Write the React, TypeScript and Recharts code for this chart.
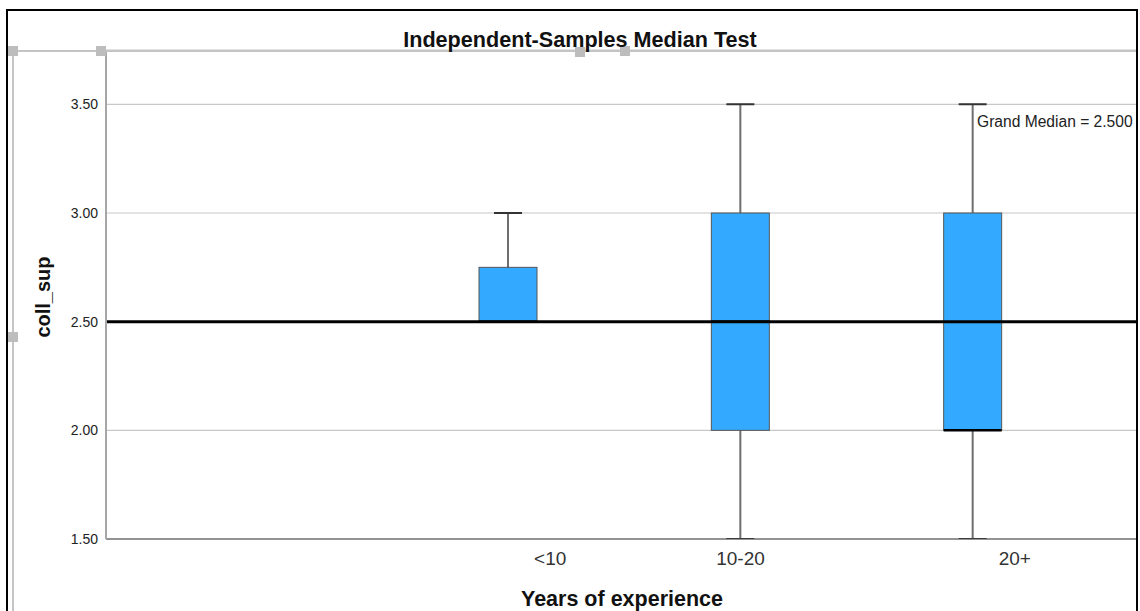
import { ComposedChart, Bar, XAxis, YAxis, CartesianGrid, ReferenceLine } from 'recharts'

const groups = ['<10', '10-20', '20+']
const mins = [2.5, 1.5, 1.5]
const q1s = [2.5, 2.0, 2.0]
const medians = [2.5, 2.5, 2.0]
const q3s = [2.75, 3.0, 3.0]
const maxs = [3.0, 3.5, 3.5]
const yTicks = [1.5, 2.0, 2.5, 3.0, 3.5]
const grandMedian = 2.5

// SPSS draws the category labels a little right of the boxes
const tickShift = [42, 0, 42]

const FONT = "'Liberation Sans', Arial, sans-serif"
const BOX_FILL = '#33aaff'

const data = groups.map((g, i) => ({
  group: g,
  whisker: [mins[i], maxs[i]],
  box: [q1s[i], q3s[i]],
  q1: q1s[i],
  q3: q3s[i],
  median: medians[i],
}))

function WhiskerShape(props: any) {
  const { x, y, width, height } = props
  const cx = x + width / 2
  const cap = 14
  return (
    <g>
      <line x1={cx} x2={cx} y1={y} y2={y + height} stroke="#6e6e6e" strokeWidth={2} />
      <line x1={cx - cap} x2={cx + cap} y1={y} y2={y} stroke="#333" strokeWidth={2} />
      <line x1={cx - cap} x2={cx + cap} y1={y + height} y2={y + height} stroke="#333" strokeWidth={2} />
    </g>
  )
}

function BoxShape(props: any) {
  const { x, y, width, height, payload } = props
  const { q1, q3, median } = payload
  const my = y + (height * (q3 - median)) / (q3 - q1)
  return (
    <g>
      <rect x={x} y={y} width={width} height={height} fill={BOX_FILL} stroke="#555" strokeWidth={1} />
      <line x1={x} x2={x + width} y1={my} y2={my} stroke="#000" strokeWidth={2.5} />
    </g>
  )
}

function GroupTick(props: any) {
  const { x, y, payload, index } = props
  return (
    <text x={x + tickShift[index]} y={y} dy="0.71em" textAnchor="middle" fill="#333" fontSize={19} fontFamily={FONT}>
      {payload.value}
    </text>
  )
}

const handles = [
  [13, 51],
  [101, 51],
  [580, 52],
  [625, 51],
  [13, 337],
]

export default function App() {
  const xPad = { left: 286, right: 48 }
  return (
    <div style={{ position: 'absolute', left: 0, top: 0, width: 1140, height: 611, background: '#fff', fontFamily: FONT }}>
      <ComposedChart
        width={1140}
        height={611}
        data={data}
        margin={{ top: 50, right: 3, left: 0, bottom: 0 }}
      >
        <CartesianGrid horizontal vertical={false} stroke="#c8c8c8" strokeWidth={1.2} />
        <XAxis
          xAxisId="main"
          dataKey="group"
          height={72}
          padding={xPad}
          tick={<GroupTick />}
          tickLine={false}
          tickMargin={7}
          axisLine={{ stroke: '#444', strokeWidth: 1.2 }}
        />
        <XAxis xAxisId="wh" dataKey="group" hide padding={xPad} />
        <YAxis
          domain={[1.5, 3.75]}
          ticks={yTicks}
          allowDataOverflow
          width={106}
          tickLine={false}
          axisLine={{ stroke: '#a6a6a6', strokeWidth: 2 }}
          tick={{ fontSize: 14, fill: '#222', fontFamily: FONT }}
          tickFormatter={(v: number) => v.toFixed(2)}
        />
        <Bar
          xAxisId="wh"
          dataKey="whisker"
          barSize={58}
          shape={<WhiskerShape />}
          isAnimationActive={false}
        />
        <Bar
          xAxisId="main"
          dataKey="box"
          barSize={58}
          shape={<BoxShape />}
          isAnimationActive={false}
        />
        <ReferenceLine xAxisId="main" y={grandMedian} stroke="#000" strokeWidth={3} />
      </ComposedChart>

      <svg width={1140} height={611} style={{ position: 'absolute', left: 0, top: 0, pointerEvents: 'none' }}>
        <line x1={13} x2={1137} y1={51} y2={51} stroke="#c4c4c4" strokeWidth={2} />
        <line x1={13} x2={13} y1={51} y2={611} stroke="#c4c4c4" strokeWidth={2} />
        {handles.map(([hx, hy], i) => (
          <rect key={i} x={hx - 5} y={hy - 5} width={10} height={10} fill="#bdbdbd" />
        ))}
        <text x={580} y={47} textAnchor="middle" fontSize={21.6} fontWeight="bold" fill="#111" fontFamily={FONT}>
          Independent-Samples Median Test
        </text>
        <text x={977} y={127} fontSize={15.6} fill="#222" fontFamily={FONT}>
          Grand Median = {grandMedian.toFixed(3)}
        </text>
        <text x={622} y={606} textAnchor="middle" fontSize={21.5} fontWeight="bold" fill="#111" fontFamily={FONT}>
          Years of experience
        </text>
        <text
          x={50}
          y={297}
          textAnchor="middle"
          fontSize={20}
          fontWeight="bold"
          fill="#111"
          fontFamily={FONT}
          transform="rotate(-90 50 297)"
        >
          coll_sup
        </text>
        <rect x={7} y={10} width={1130} height={620} fill="none" stroke="#000" strokeWidth={2} />
      </svg>
    </div>
  )
}
